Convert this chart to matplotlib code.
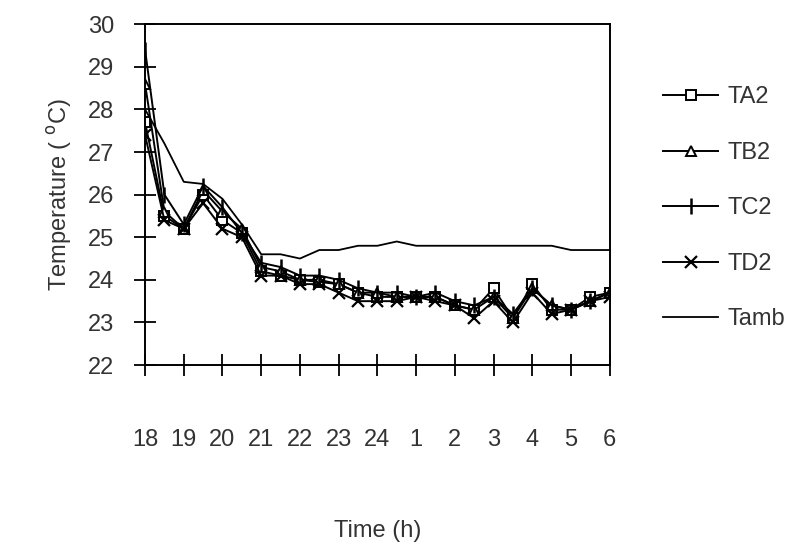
import matplotlib
matplotlib.use('Agg')
import matplotlib.pyplot as plt

plt.rcParams['font.family'] = ['Liberation Sans', 'DejaVu Sans']

# time of day in hours, half-hour readings from 18:00 to 06:00 (next day = 24+h)
hours = [18.0, 18.5, 19.0, 19.5, 20.0, 20.5, 21.0, 21.5, 22.0, 22.5, 23.0, 23.5,
         24.0, 24.5, 25.0, 25.5, 26.0, 26.5, 27.0, 27.5, 28.0, 28.5, 29.0, 29.5, 30.0]

TA2 = [27.7, 25.5, 25.2, 26.0, 25.4, 25.1, 24.2, 24.1, 24.0, 23.95, 23.9, 23.7,
       23.6, 23.6, 23.6, 23.6, 23.4, 23.3, 23.8, 23.1, 23.9, 23.3, 23.3, 23.6, 23.7]
TB2 = [28.6, 25.6, 25.2, 26.1, 25.6, 25.2, 24.3, 24.2, 24.0, 24.0, 23.9, 23.7,
       23.7, 23.6, 23.6, 23.6, 23.4, 23.3, 23.6, 23.1, 23.8, 23.4, 23.3, 23.5, 23.7]
TC2 = [29.4, 26.0, 25.3, 26.2, 25.7, 25.1, 24.4, 24.3, 24.1, 24.1, 24.0, 23.8,
       23.7, 23.7, 23.6, 23.7, 23.5, 23.4, 23.6, 23.2, 23.8, 23.4, 23.3, 23.5, 23.7]
TD2 = [27.4, 25.4, 25.2, 25.8, 25.2, 25.0, 24.1, 24.1, 23.9, 23.9, 23.7, 23.5,
       23.5, 23.5, 23.6, 23.5, 23.4, 23.1, 23.5, 23.0, 23.7, 23.2, 23.3, 23.5, 23.6]
Tamb = [28.0, 27.2, 26.3, 26.25, 25.9, 25.3, 24.6, 24.6, 24.5, 24.7, 24.7, 24.8,
        24.8, 24.9, 24.8, 24.8, 24.8, 24.8, 24.8, 24.8, 24.8, 24.8, 24.7, 24.7, 24.7]

hour_ticks = [18, 19, 20, 21, 22, 23, 24, 25, 26, 27, 28, 29, 30]
hour_labels = ['18', '19', '20', '21', '22', '23', '24', '1', '2', '3', '4', '5', '6']

txt = '#333333'
fig = plt.figure(figsize=(7.97, 5.49), dpi=100)
ax = fig.add_axes([0.182, 0.335, 0.583, 0.621])

ax.plot(hours, TA2, '-', color='black', lw=1.4, marker='s', ms=7, mfc='white', mew=1.4, label='TA2')
ax.plot(hours, TB2, '-', color='black', lw=1.4, marker='^', ms=7, mfc='white', mew=1.4, label='TB2')
ax.plot(hours, TC2, '-', color='black', lw=1.4, marker='|', ms=11, mew=1.8, label='TC2')
ax.plot(hours, TD2, '-', color='black', lw=1.4, marker='x', ms=9, mew=1.6, label='TD2')
ax.plot(hours, Tamb, '-', color='black', lw=1.3, label='Tamb')

ax.set_xlim(18, 30)
ax.set_ylim(22, 30)
ax.set_xticks(hour_ticks)
ax.set_xticklabels(hour_labels)
ax.set_yticks(range(22, 31))

ax.tick_params(axis='x', direction='inout', length=16, width=1.3, pad=38,
               labelsize=17, labelcolor=txt)
ax.tick_params(axis='y', direction='inout', length=16, width=1.3, pad=14,
               labelsize=17, labelcolor=txt)
for sp in ax.spines.values():
    sp.set_linewidth(1.4)

ax.set_ylabel('Temperature ( $^{\\mathrm{o}}$C)', fontsize=17, color=txt, labelpad=10)
ax.set_xlabel('Time (h)', fontsize=17, color=txt, labelpad=50)

leg = ax.legend(loc='upper left', bbox_to_anchor=(1.07, 0.88), frameon=False,
                fontsize=17, handlelength=2.3, labelspacing=1.42, handletextpad=0.4,
                labelcolor=txt)

fig.savefig('out.png', dpi=100)
